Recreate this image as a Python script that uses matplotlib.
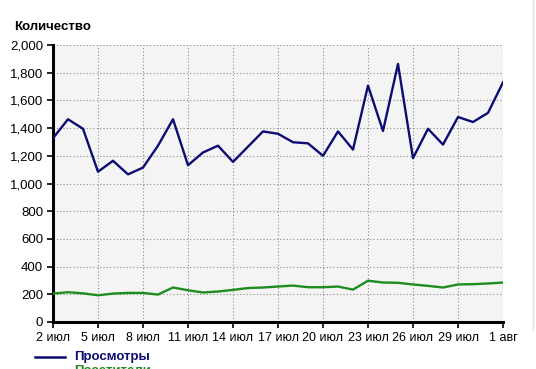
import matplotlib
matplotlib.use("Agg")
from matplotlib import pyplot as plt
from matplotlib.ticker import FuncFormatter
from matplotlib.lines import Line2D

# daily values, 2 Jul .. 1 Aug
views = [1327, 1464, 1395, 1085, 1164, 1066, 1115, 1273, 1464, 1132,
         1224, 1273, 1156, 1266, 1376, 1359, 1298, 1290, 1200, 1376,
         1245, 1707, 1379, 1863, 1183, 1395, 1281, 1480, 1444, 1510, 1730]
visitors = [205, 215, 207, 193, 205, 210, 210, 198, 249, 229,
            213, 220, 232, 245, 249, 256, 263, 251, 251, 256,
            234, 298, 285, 283, 271, 261, 249, 271, 273, 278, 285]
tick_labels = ["2 июл", "5 июл", "8 июл", "11 июл", "14 июл", "17 июл",
               "20 июл", "23 июл", "26 июл", "29 июл", "1 авг"]
series_names = ["Просмотры", "Посетители"]

plt.rcParams["font.family"] = ["Liberation Sans", "DejaVu Sans"]

fig = plt.figure(figsize=(5.36, 3.69), dpi=100)
ax = fig.add_axes([53 / 536, 1 - 322 / 369, 450 / 536, 277 / 369])
ax.set_facecolor("#f4f4f4")

days = range(len(views))
ax.plot(days, views, color="#0c0c72", lw=1.7, zorder=3)
ax.plot(days, visitors, color="#1e8c1e", lw=1.7, zorder=3)

ax.set_xlim(0, 30)
ax.set_ylim(0, 2000)
ax.set_xticks(range(0, 31, 3))
ax.set_xticklabels(tick_labels)
ax.set_yticks(range(0, 2001, 200))
ax.yaxis.set_major_formatter(FuncFormatter(lambda v, p: f"{int(v):,}"))
ax.tick_params(axis="both", labelsize=9, length=4, width=1.2, color="black", pad=3)
ax.tick_params(axis="y", labelsize=9.5)

ax.grid(True, linestyle=(0, (1, 2)), color="#8a8a8a", lw=0.8, zorder=1)
ax.spines["top"].set_visible(False)
ax.spines["right"].set_visible(False)
ax.spines["left"].set_linewidth(2.2)
ax.spines["bottom"].set_linewidth(2.2)

fig.text(14 / 536, 1 - 27 / 369, "Количество", fontsize=9.5, fontweight="bold",
         va="center", ha="left")

# legend (second entry is cut off at the bottom edge, as in the original)
fig.add_artist(Line2D([35 / 536, 65 / 536], [1 - 357 / 369] * 2,
                      color="#0c0c72", lw=1.8))
fig.text(74 / 536, 1 - 357 / 369, series_names[0], fontsize=9.5, fontweight="bold",
         color="#0c0c72", va="center")
fig.add_artist(Line2D([35 / 536, 65 / 536], [1 - 372 / 369] * 2,
                      color="#1e8c1e", lw=1.8))
fig.text(74 / 536, 1 - 371 / 369, series_names[1], fontsize=9.5, fontweight="bold",
         color="#1e8c1e", va="center")

fig.add_artist(Line2D([533 / 536] * 2, [1 - 330 / 369, 1.0], color="#e0e0e0", lw=1))

fig.savefig("out.png", dpi=100)
